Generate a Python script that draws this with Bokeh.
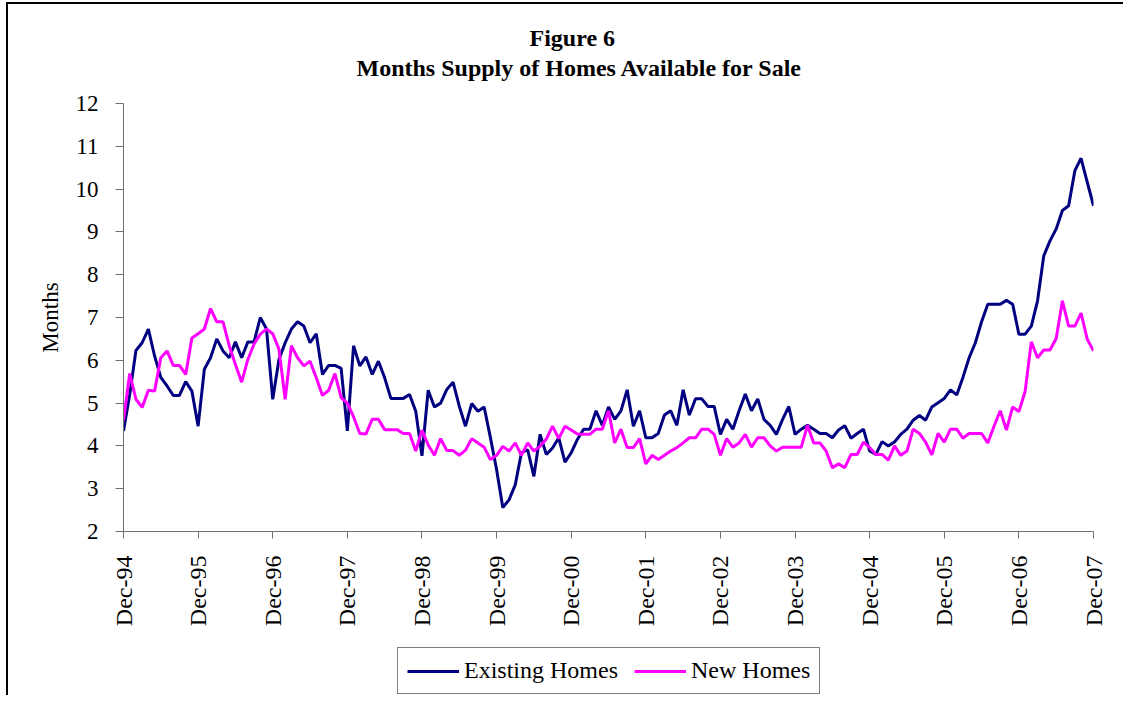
from bokeh.plotting import figure
from bokeh.models import Range1d, FixedTicker, Legend, LegendItem, Title
from bokeh.layouts import column
from bokeh.embed import file_html
from bokeh.resources import INLINE
import math

title_line1 = "Figure 6"
title_line2 = "Months Supply of Homes Available for Sale"
y_label = "Months"
series_names = ["Existing Homes", "New Homes"]
tick_labels = ["Dec-94", "Dec-95", "Dec-96", "Dec-97", "Dec-98", "Dec-99", "Dec-00",
               "Dec-01", "Dec-02", "Dec-03", "Dec-04", "Dec-05", "Dec-06", "Dec-07"]

# monthly values, Dec-94 .. Dec-07
existing_homes = [
    4.35, 5.2, 6.23, 6.41, 6.73, 6.1, 5.6, 5.4, 5.18, 5.18,
    5.5, 5.28, 4.46, 5.79, 6.06, 6.5, 6.22, 6.06, 6.43, 6.06,
    6.43, 6.43, 7.0, 6.73, 5.09, 6.02, 6.41, 6.73, 6.9, 6.8,
    6.41, 6.62, 5.67, 5.88, 5.88, 5.81, 4.35, 6.34, 5.87, 6.08,
    5.67, 5.98, 5.59, 5.11, 5.11, 5.11, 5.2, 4.81, 3.77, 5.3,
    4.91, 5.0, 5.32, 5.49, 4.93, 4.46, 4.99, 4.81, 4.91, 4.2,
    3.45, 2.56, 2.74, 3.09, 3.84, 3.91, 3.29, 4.27, 3.8, 3.95,
    4.19, 3.62, 3.84, 4.15, 4.39, 4.39, 4.82, 4.48, 4.91, 4.62,
    4.82, 5.31, 4.46, 4.82, 4.19, 4.19, 4.29, 4.72, 4.82, 4.48,
    5.31, 4.72, 5.1, 5.1, 4.92, 4.92, 4.27, 4.62, 4.39, 4.82,
    5.21, 4.82, 5.1, 4.62, 4.48, 4.27, 4.62, 4.92, 4.27, 4.39,
    4.48, 4.39, 4.29, 4.29, 4.19, 4.37, 4.47, 4.18, 4.29, 4.39,
    3.88, 3.8, 4.1, 4.0, 4.09, 4.27, 4.39, 4.6, 4.71, 4.6,
    4.91, 5.01, 5.11, 5.31, 5.19, 5.6, 6.06, 6.41, 6.9, 7.31,
    7.31, 7.31, 7.4, 7.31, 6.61, 6.61, 6.8, 7.39, 8.44, 8.79,
    9.07, 9.5, 9.61, 10.43, 10.72, 10.16, 9.61,
]
new_homes = [
    4.6, 5.69, 5.09, 4.9, 5.3, 5.28, 6.06, 6.22, 5.88, 5.88,
    5.67, 6.52, 6.62, 6.73, 7.21, 6.9, 6.9, 6.34, 5.9, 5.49,
    6.02, 6.38, 6.61, 6.73, 6.62, 6.26, 5.09, 6.34, 6.06, 5.87,
    5.98, 5.59, 5.18, 5.3, 5.69, 5.13, 5.0, 4.68, 4.29, 4.28,
    4.62, 4.62, 4.38, 4.38, 4.38, 4.29, 4.29, 3.88, 4.37, 4.02,
    3.78, 4.17, 3.89, 3.89, 3.78, 3.9, 4.17, 4.07, 3.97, 3.68,
    3.78, 3.99, 3.88, 4.07, 3.78, 4.07, 3.88, 3.99, 4.16, 4.46,
    4.17, 4.46, 4.37, 4.28, 4.27, 4.27, 4.39, 4.39, 4.82, 4.07,
    4.39, 3.96, 3.96, 4.17, 3.58, 3.78, 3.68, 3.78, 3.88, 3.96,
    4.07, 4.19, 4.19, 4.39, 4.39, 4.27, 3.78, 4.17, 3.97, 4.07,
    4.27, 3.97, 4.19, 4.19, 4.0, 3.88, 3.97, 3.97, 3.97, 3.97,
    4.48, 4.07, 4.07, 3.88, 3.49, 3.58, 3.49, 3.8, 3.8, 4.09,
    3.96, 3.8, 3.8, 3.67, 4.0, 3.78, 3.88, 4.39, 4.29, 4.09,
    3.79, 4.29, 4.09, 4.39, 4.39, 4.18, 4.29, 4.29, 4.29, 4.07,
    4.46, 4.82, 4.37, 4.91, 4.8, 5.27, 6.43, 6.06, 6.24, 6.24,
    6.51, 7.39, 6.8, 6.8, 7.1, 6.49, 6.22,
]

months = list(range(len(existing_homes)))
tick_positions = [12 * k for k in range(len(tick_labels))]

FONT = "Liberation Serif"
NAVY = "#000080"
MAGENTA = "#FF00FF"
W = 1117

# ---------------- main chart ----------------
p = figure(width=W, height=635, output_backend="svg", toolbar_location=None,
           x_range=Range1d(0, months[-1]), y_range=Range1d(2, 12),
           min_border_left=115, min_border_right=32, min_border_top=99,
           min_border_bottom=108)
p.styles = {"margin-left": "6px", "margin-top": "2px",
            "border-left": "2px solid #000000", "border-top": "2px solid #000000"}
p.background_fill_color = "white"
p.border_fill_color = "white"
p.outline_line_color = None
p.xgrid.visible = False
p.ygrid.visible = False

p.line(months, existing_homes, line_color=NAVY, line_width=3)
p.line(months, new_homes, line_color=MAGENTA, line_width=3)

xa = p.xaxis[0]
xa.ticker = FixedTicker(ticks=tick_positions)
xa.major_label_overrides = {t: l for t, l in zip(tick_positions, tick_labels)}
xa.major_label_orientation = math.pi / 2
xa.minor_tick_line_color = None
xa.major_tick_in = 0
xa.major_tick_out = 7
xa.major_label_standoff = 17
xa.major_label_text_font_size = "24px"
ya = p.yaxis[0]
ya.ticker = FixedTicker(ticks=list(range(2, 13)))
ya.minor_tick_line_color = None
ya.major_tick_in = 0
ya.major_tick_out = 8
ya.major_label_standoff = 17
ya.major_label_text_font_size = "23px"
ya.axis_label = y_label
ya.axis_label_standoff = 10
ya.axis_label_text_font = FONT
ya.axis_label_text_font_style = "normal"
ya.axis_label_text_font_size = "23px"
ya.axis_label_text_color = "black"
for ax in (xa, ya):
    ax.axis_line_color = "#707070"
    ax.major_tick_line_color = "#707070"
    ax.major_label_text_font = FONT
    ax.major_label_text_color = "black"

# titles: p.above[0] sits next to the frame (spacer), then line 2; p.title outermost
p.title.text = title_line1
p.title.align = "left"
p.title.offset = 406
p.title.text_font = FONT
p.title.text_font_style = "bold"
p.title.text_font_size = "24px"
p.title.text_color = "black"
p.title.standoff = 2
p.add_layout(Title(text=" ", align="left", text_font=FONT, text_font_size="1px",
                   standoff=19), "above")
p.add_layout(Title(text=title_line2, align="left", offset=233, text_font=FONT,
                   text_font_style="bold", text_font_size="24px", text_color="black",
                   standoff=2), "above")

# ---------------- legend strip ----------------
pl = figure(width=W, height=58, output_backend="svg", toolbar_location=None,
            x_range=Range1d(0, 1), y_range=Range1d(-10, -9),
            x_axis_location=None, y_axis_location=None, min_border=0)
pl.styles = {"margin-left": "6px", "border-left": "2px solid #000000"}
pl.outline_line_color = None
pl.xgrid.visible = False
pl.ygrid.visible = False
pl.background_fill_color = "white"
pl.border_fill_color = "white"
# same series (outside this strip's visible range) used only as legend glyphs
l1 = pl.line(months, existing_homes, line_color=NAVY, line_width=3)
l2 = pl.line(months, new_homes, line_color=MAGENTA, line_width=3)

legend = Legend(items=[LegendItem(label=series_names[0], renderers=[l1]),
                       LegendItem(label=series_names[1], renderers=[l2])],
                orientation="horizontal", location=(274, 1))
legend.label_text_font = FONT
legend.label_text_font_size = "24px"
legend.label_text_color = "black"
legend.glyph_width = 52
legend.label_standoff = 5
legend.spacing = 16
legend.padding = 9
legend.margin = 0
legend.border_line_color = "black"
legend.border_line_width = 1
legend.background_fill_color = "white"
legend.background_fill_alpha = 1
pl.add_layout(legend)

layout = column(p, pl, spacing=0)
open("out.html", "w").write(file_html(layout, INLINE))
